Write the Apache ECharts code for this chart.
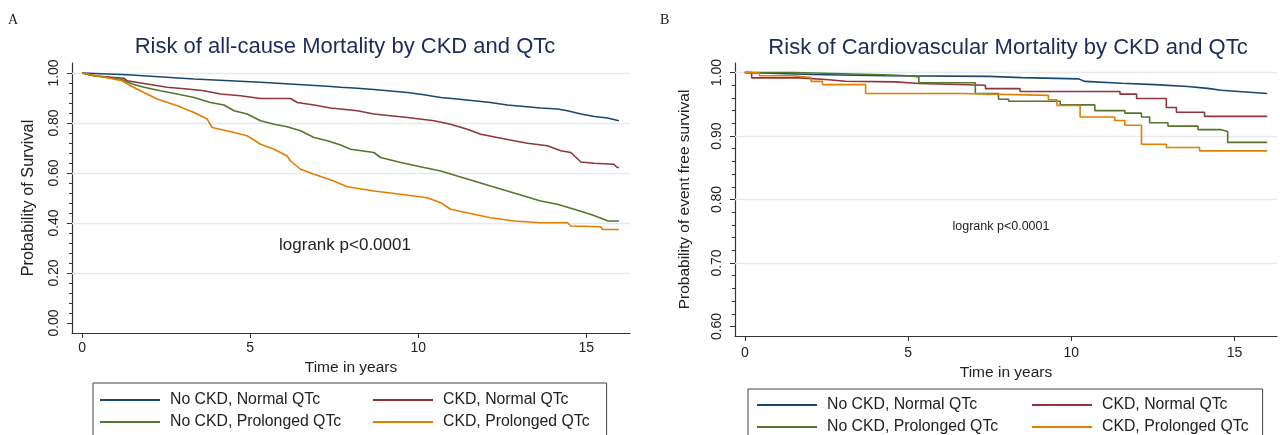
<!DOCTYPE html>
<html><head><meta charset="utf-8">
<script src="https://cdn.jsdelivr.net/npm/echarts@6/dist/echarts.min.js"></script>
<style>html,body{margin:0;padding:0;background:#fff}#c{width:1280px;height:435px}</style>
</head><body><div id="c"></div>
<script>
// ---------- data ----------
const seriesNames = ['No CKD, Normal QTc', 'CKD, Normal QTc', 'No CKD, Prolonged QTc', 'CKD, Prolonged QTc'];
const seriesColors = ['#1a476f', '#90353b', '#55752f', '#e37e00'];

const xTicks = [0, 5, 10, 15];
const yTicksA = [0, 0.2, 0.4, 0.6, 0.8, 1.0];
const yGridA = [0.2, 0.4, 0.6, 0.8, 1.0];
const yMinorA = [0.04,0.08,0.12,0.16,0.24,0.28,0.32,0.36,0.44,0.48,0.52,0.56,0.64,0.68,0.72,0.76,0.84,0.88,0.92,0.96];
const yTicksB = [0.6, 0.7, 0.8, 0.9, 1.0];
const yGridB = [0.7, 0.8, 0.9, 1.0];
const yMinorB = [0.62,0.64,0.66,0.68,0.72,0.74,0.76,0.78,0.82,0.84,0.86,0.88,0.92,0.94,0.96,0.98];

// Panel A: all-cause mortality (time in years, survival probability)
const allNoCkdNormal = [[0,1],[1.34,0.993],[3.33,0.976],[5.31,0.963],[7.3,0.947],[7.69,0.943],[8.19,0.939],[8.68,0.934],[9.68,0.922],[10.17,0.913],[10.67,0.902],[11.16,0.896],[11.66,0.889],[12.15,0.882],[12.65,0.872],[13.15,0.866],[13.64,0.86],[14.14,0.856],[14.44,0.849],[14.84,0.836],[15.24,0.826],[15.63,0.82],[15.97,0.809]];
const allCkdNormal = [[0,1],[0.35,0.989],[1.24,0.979],[1.34,0.969],[1.93,0.956],[2.53,0.943],[3.13,0.936],[3.62,0.929],[4.12,0.916],[4.71,0.909],[5.31,0.898],[6.2,0.898],[6.4,0.882],[6.9,0.872],[7.39,0.86],[7.69,0.856],[8.19,0.849],[8.68,0.836],[9.68,0.822],[10.47,0.809],[10.96,0.795],[11.46,0.775],[11.86,0.755],[12.35,0.742],[12.85,0.729],[13.25,0.719],[13.84,0.709],[14.24,0.689],[14.54,0.682],[14.84,0.644],[15.23,0.639],[15.82,0.635],[15.92,0.622],[15.97,0.622]];
const allNoCkdProlonged = [[0,1],[0.35,0.989],[1.14,0.976],[1.49,0.956],[1.84,0.943],[2.33,0.929],[2.83,0.916],[3.33,0.902],[3.82,0.882],[4.22,0.872],[4.52,0.849],[4.91,0.836],[5.31,0.809],[5.71,0.795],[6.1,0.785],[6.5,0.769],[6.9,0.742],[7.3,0.729],[7.69,0.712],[7.99,0.695],[8.68,0.682],[8.88,0.662],[9.48,0.642],[10.17,0.622],[10.67,0.608],[11.16,0.588],[11.66,0.568],[12.15,0.548],[12.65,0.528],[13.15,0.508],[13.64,0.488],[14.14,0.475],[14.64,0.455],[15.14,0.434],[15.54,0.414],[15.64,0.408],[15.97,0.408]];
const allCkdProlonged = [[0,1],[1.19,0.969],[1.44,0.949],[1.84,0.922],[2.23,0.896],[2.83,0.869],[3.33,0.842],[3.72,0.816],[3.87,0.782],[4.52,0.762],[4.91,0.749],[5.31,0.715],[5.71,0.695],[6.1,0.668],[6.2,0.648],[6.5,0.615],[6.9,0.595],[7.49,0.568],[7.89,0.545],[8.68,0.528],[9.48,0.515],[10.27,0.501],[10.67,0.481],[10.96,0.455],[11.66,0.435],[12.15,0.421],[12.85,0.408],[13.64,0.401],[14.44,0.401],[14.54,0.388],[15.43,0.385],[15.48,0.374],[15.97,0.374]];

// Panel B: cardiovascular mortality
const cvNoCkdNormal = [[0,1],[2.08,0.997],[4.31,0.995],[7.47,0.994],[8.49,0.992],[10.22,0.99],[10.42,0.986],[11.54,0.983],[12.56,0.981],[13.57,0.978],[14.18,0.975],[14.59,0.972],[16,0.967]];
const cvCkdNormal = [[0,1],[0.21,0.9916],[1.67,0.989],[2.48,0.9863],[3.09,0.9853],[4.62,0.9826],[5.33,0.98],[7.37,0.9747],[8.43,0.97],[11.49,0.966],[12.0,0.959],[12.91,0.945],[13.22,0.9375],[14.08,0.931],[16,0.931]];
const cvNoCkdProlonged = [[0,1],[1.5,0.998],[3.0,0.996],[4.5,0.995],[5.0,0.993],[5.33,0.984],[7.06,0.967],[7.77,0.958],[8.08,0.9547],[9.66,0.949],[10.72,0.94],[11.64,0.936],[12.15,0.93],[12.4,0.921],[12.96,0.9156],[13.88,0.91],[14.59,0.907],[14.79,0.89],[16,0.89]];
const cvCkdProlonged = [[0,1],[0.45,0.995],[1.47,0.992],[2.03,0.986],[2.38,0.981],[3.7,0.967],[6.66,0.964],[9.3,0.957],[9.56,0.948],[10.27,0.93],[11.33,0.9245],[11.64,0.917],[12.15,0.887],[12.91,0.882],[13.93,0.8766],[16,0.8766]];

const panelAData = [allNoCkdNormal, allCkdNormal, allNoCkdProlonged, allCkdProlonged];
const panelBData = [cvNoCkdNormal, cvCkdNormal, cvNoCkdProlonged, cvCkdProlonged];

// ---------- chart ----------
const F = "'Liberation Sans', Arial, Helvetica, sans-serif";
const AX = '#333';
const TXT = '#222';
const GRIDC = '#e3ebef';

function xAxisCfg(gi, gap, margin) {
  return {
    gridIndex: gi, type: 'value', min: -0.3, max: 16.3,
    axisLine: { show: true, onZero: false, lineStyle: { color: AX, width: 1.2 } },
    axisTick: { show: true, customValues: xTicks, length: 5, lineStyle: { color: AX } },
    axisLabel: { customValues: xTicks, margin: margin, fontSize: 14, color: TXT, fontFamily: F },
    splitLine: { show: false },
    name: 'Time in years', nameLocation: 'middle', nameGap: gap,
    nameTextStyle: { fontSize: 15.5, color: TXT, fontFamily: F }
  };
}
function yAxisCfg(gi, mn, mx, ticks, name, gap, nameSize) {
  return {
    gridIndex: gi, type: 'value', min: mn, max: mx, position: 'left',
    axisLine: { show: true, onZero: false, lineStyle: { color: AX, width: 1.2 } },
    axisTick: { show: true, customValues: ticks, length: 5, lineStyle: { color: AX } },
    axisLabel: { customValues: ticks, rotate: 90, margin: 11, fontSize: 14, color: TXT, fontFamily: F,
      formatter: v => v.toFixed(2) },
    splitLine: { show: false },
    name: name, nameLocation: 'middle', nameGap: gap,
    nameTextStyle: { fontSize: nameSize, color: TXT, fontFamily: F }
  };
}
function yMinorCfg(gi, mn, mx, ticks) {
  return {
    gridIndex: gi, type: 'value', min: mn, max: mx, position: 'left', offset: 0,
    axisLine: { show: false, onZero: false },
    axisTick: { show: true, customValues: ticks, length: 3, lineStyle: { color: AX } },
    axisLabel: { show: false }, splitLine: { show: false }
  };
}

const series = [];
panelAData.forEach((d, i) => {
  series.push({
    name: seriesNames[i], type: 'line', xAxisIndex: 0, yAxisIndex: 0, data: d,
    showSymbol: false, symbol: 'none', z: 3,
    lineStyle: { color: seriesColors[i], width: 1.6 }, itemStyle: { color: seriesColors[i] },
    animation: false,
    markLine: i === 0 ? { silent: true, symbol: ['none', 'none'], z: 1, animation: false,
      label: { show: false }, lineStyle: { color: GRIDC, width: 1.3, type: 'solid' },
      emphasis: { disabled: true },
      data: yGridA.map(v => ({ yAxis: v })) } : undefined
  });
});
panelBData.forEach((d, i) => {
  series.push({
    name: seriesNames[i], type: 'line', xAxisIndex: 1, yAxisIndex: 2, data: d,
    step: i === 0 ? false : 'end',
    showSymbol: false, symbol: 'none', z: 3,
    lineStyle: { color: seriesColors[i], width: 1.6 }, itemStyle: { color: seriesColors[i] },
    animation: false,
    markLine: i === 0 ? { silent: true, symbol: ['none', 'none'], z: 1, animation: false,
      label: { show: false }, lineStyle: { color: GRIDC, width: 1.3, type: 'solid' },
      emphasis: { disabled: true },
      data: yGridB.map(v => ({ yAxis: v })) } : undefined
  });
});

function legendCfg(left, top, padding, colW) {
  return {
    data: seriesNames, left: left, top: top, orient: 'horizontal', width: 540,
    itemWidth: 60, itemHeight: 2, icon: 'rect', itemGap: 4,
    padding: padding, borderColor: '#444', borderWidth: 1, backgroundColor: '#fff',
    selectedMode: false,
    formatter: n => (seriesNames.indexOf(n) % 2 === 0 ? '{a|' + n + '}' : '{b|' + n + '}'),
    textStyle: { fontSize: 15.8, color: TXT, fontFamily: F, lineHeight: 18, padding: [0, 0, 0, 5],
      rich: { a: { width: colW, fontSize: 15.8, color: TXT, fontFamily: F, lineHeight: 18 },
              b: { fontSize: 15.8, color: TXT, fontFamily: F, lineHeight: 18 } } }
  };
}

const option = {
  backgroundColor: '#fff',
  animation: false,
  grid: [
    { left: 72, top: 63, width: 558, height: 270, outerBoundsMode: 'none', containLabel: false },
    { left: 735, top: 63, width: 542, height: 273, outerBoundsMode: 'none', containLabel: false }
  ],
  xAxis: [xAxisCfg(0, 20, 8), xAxisCfg(1, 24, 10)],
  yAxis: [
    yAxisCfg(0, -0.04, 1.04, yTicksA, 'Probability of Survival', 35, 16.3),
    yMinorCfg(0, -0.04, 1.04, yMinorA),
    yAxisCfg(1, 0.585, 1.015, yTicksB, 'Probability of event free survival', 42, 15.5),
    yMinorCfg(1, 0.585, 1.015, yMinorB)
  ],
  legend: [
    legendCfg(93, 383, [8, 17, 8, 7], 199),
    legendCfg(748, 389, [7, 14, 8, 9], 201)
  ],
  graphic: [
    { type: 'text', x: 8, y: 20, style: { text: 'A', font: "14px 'Liberation Serif', serif", fill: TXT, align: 'left', verticalAlign: 'middle' } },
    { type: 'text', x: 660, y: 20, style: { text: 'B', font: "14px 'Liberation Serif', serif", fill: TXT, align: 'left', verticalAlign: 'middle' } },
    { type: 'text', x: 345, y: 47, style: { text: 'Risk of all-cause Mortality by CKD and QTc', font: "22px " + F, fill: '#1c2b5a', align: 'center', verticalAlign: 'middle' } },
    { type: 'text', x: 1008, y: 48, style: { text: 'Risk of Cardiovascular Mortality by CKD and QTc', font: "22px " + F, fill: '#1c2b5a', align: 'center', verticalAlign: 'middle' } },
    { type: 'text', x: 345, y: 245, style: { text: 'logrank p<0.0001', font: "17px " + F, fill: TXT, align: 'center', verticalAlign: 'middle' } },
    { type: 'text', x: 1001, y: 227, style: { text: 'logrank p<0.0001', font: "12.5px " + F, fill: TXT, align: 'center', verticalAlign: 'middle' } }
  ],
  series: series
};

const chart = echarts.init(document.getElementById('c'), null, { renderer: 'canvas' });
chart.setOption(option);
</script>
</body></html>
